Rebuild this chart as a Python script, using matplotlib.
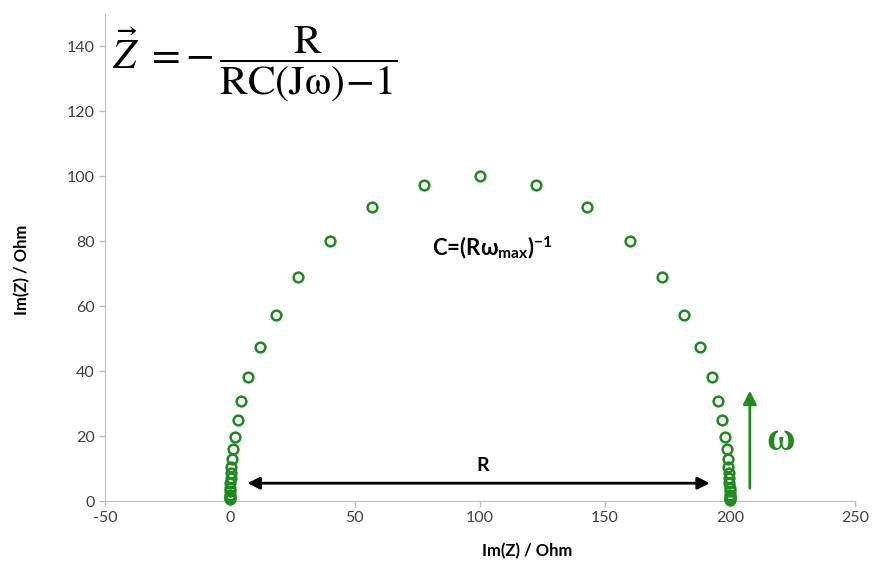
import matplotlib
matplotlib.use("Agg")
import matplotlib.pyplot as plt

# Nyquist data for a parallel RC (R = 200 Ohm)
re_z = [0.0, 0.0, 0.0, 0.0, 0.05, 0.1, 0.15, 0.25, 0.35, 0.55, 0.8, 1.3, 2.0, 3.1,
        4.6, 7.3, 12.0, 18.5, 27.3, 40.0, 57.0, 77.5, 100.0,
        122.5, 143.0, 160.0, 172.7, 181.5, 188.0, 192.7, 195.4, 196.9, 198.0,
        198.7, 199.2, 199.45, 199.65, 199.75, 199.85, 199.9, 199.95, 200.0,
        200.0, 200.0, 200.0, 200.0]
im_z = [0.5, 1.0, 1.5, 2.0, 3.0, 4.0, 5.5, 7.0, 8.5, 10.4, 12.8, 15.9, 19.8, 24.8,
        30.9, 38.3, 47.4, 57.4, 69.0, 80.0, 90.4, 97.4, 100.0,
        97.4, 90.4, 80.0, 69.0, 57.4, 47.4, 38.3, 30.9, 24.8, 19.8,
        15.9, 12.8, 10.4, 8.5, 7.0, 5.5, 4.0, 3.0, 2.0,
        1.5, 1.0, 0.5, 0.2]
x_ticks = [-50, 0, 50, 100, 150, 200, 250]
y_ticks = [0, 20, 40, 60, 80, 100, 120, 140]

green = "#1f8a1f"
axis_grey = "#bfbfbf"
text_grey = "#404040"

plt.rcParams['font.family'] = ['Lato', 'DejaVu Sans']
plt.rcParams['axes.unicode_minus'] = False
plt.rcParams['mathtext.fontset'] = 'custom'
plt.rcParams['mathtext.rm'] = 'Lato'
plt.rcParams['mathtext.bf'] = 'Lato:bold'
plt.rcParams['mathtext.it'] = 'Lato:italic'

fig = plt.figure(figsize=(8.77, 5.72), dpi=100)
ax = fig.add_axes([0.1197, 0.124, 0.855, 0.852])

ax.plot(re_z, im_z, linestyle='none', marker='o', markersize=7,
        markerfacecolor='none', markeredgecolor=green, markeredgewidth=1.8,
        clip_on=False, zorder=3)

ax.set_xlim(-50, 250)
ax.set_ylim(0, 150)
ax.set_xticks(x_ticks)
ax.set_yticks(y_ticks)

for s in ['top', 'right']:
    ax.spines[s].set_visible(False)
ax.spines['left'].set_color(axis_grey)
ax.spines['bottom'].set_color(axis_grey)
ax.tick_params(axis='both', colors=axis_grey, labelcolor=text_grey,
               labelsize=11.5, length=4, width=1.0, direction='out')

ax.set_xlabel('Im(Z) / Ohm', fontsize=12, fontweight='bold', color='black')
ax.set_ylabel('Im(Z) / Ohm', fontsize=12, fontweight='bold', color='black')
ax.xaxis.set_label_coords(0.563, -0.085)
ax.yaxis.set_label_coords(-0.10, 0.474)

# equation in the top-left corner
ax.text(-47, 134.5,
        r'$\vec{Z}\ =-\,\dfrac{\mathrm{R}}{\mathrm{RC}\left(\mathrm{J}\mathrm{\omega}\right)\!-\!1}$',
        fontsize=30, math_fontfamily='stix', ha='left', va='center', color='black')

# capacitance annotation
ax.text(81, 78, r'C=(Rω$_{\mathbf{max}}$)$^{\mathbf{-1}}$', fontsize=16,
        fontweight='bold', ha='left', va='center', color='black')

# R double arrow
ax.annotate('', xy=(192, 5.5), xytext=(7, 5.5),
            arrowprops=dict(arrowstyle='<|-|>', color='black', lw=2,
                            mutation_scale=18, shrinkA=0, shrinkB=0))
ax.text(101, 11, 'R', fontsize=14, fontweight='bold', ha='center', va='center')

# frequency direction arrow
ax.annotate('', xy=(208, 34), xytext=(208, 4),
            arrowprops=dict(arrowstyle='-|>', color=green, lw=2,
                            mutation_scale=20, shrinkA=0, shrinkB=0))
ax.text(220.5, 18.5, 'ω', fontsize=28, fontweight='bold', color=green,
        family=['Liberation Serif', 'DejaVu Serif'], ha='center', va='center')

fig.savefig('out.png', dpi=100)
